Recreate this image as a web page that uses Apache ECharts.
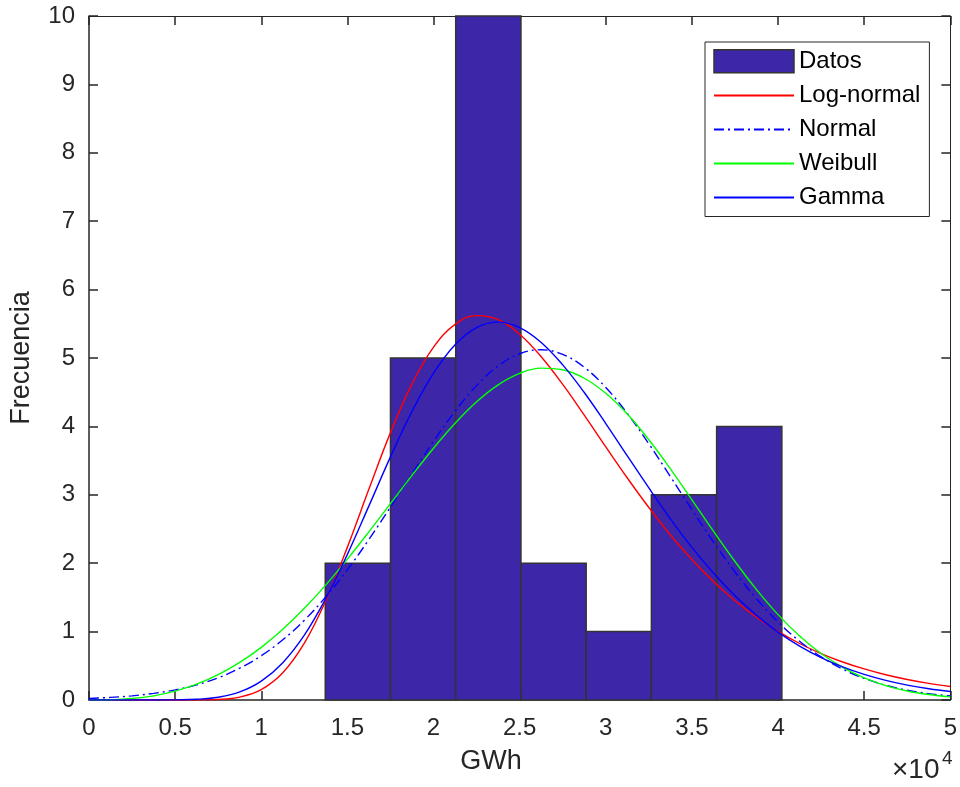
<!DOCTYPE html>
<html>
<head>
<meta charset="utf-8">
<script src="https://cdn.jsdelivr.net/npm/echarts@6/dist/echarts.min.js"></script>
<style>
  html, body { margin: 0; padding: 0; background: #fff; }
  #chart { width: 960px; height: 787px; }
</style>
</head>
<body>
<div id="chart"></div>
<script>
// Histogram of energy values (GWh) with fitted distribution curves
const binEdges = [13715, 17501, 21288, 25074, 28861, 32647, 36434, 40220];
const counts = [2, 5, 10, 2, 1, 3, 4];

// Sample points of the fitted curves (scaled to frequency)
const gwh = [0, 1250, 2500, 3750, 5000, 6250, 7500, 8750, 10000, 11250, 12500, 13750,
             15000, 16250, 17500, 18750, 20000, 21250, 22500, 23750, 25000, 26250,
             27500, 28750, 30000, 31250, 32500, 33750, 35000, 36250, 37500, 38750,
             40000, 41250, 42500, 43750, 45000, 46250, 47500, 48750, 50000];
const logNormal = [0, 0, 0, 0, 0, 0.001, 0.008, 0.043, 0.152, 0.398, 0.830, 1.457,
                   2.235, 3.084, 3.909, 4.621, 5.159, 5.492, 5.620, 5.561, 5.348, 5.019,
                   4.614, 4.165, 3.701, 3.246, 2.814, 2.413, 2.053, 1.731, 1.451, 1.209,
                   1.002, 0.826, 0.679, 0.556, 0.454, 0.369, 0.300, 0.243, 0.197];
const normal = [0.023, 0.038, 0.061, 0.097, 0.148, 0.222, 0.325, 0.465, 0.647, 0.880, 1.166, 1.509,
                1.905, 2.347, 2.820, 3.306, 3.782, 4.221, 4.596, 4.883, 5.062, 5.120,
                5.052, 4.864, 4.569, 4.188, 3.745, 3.267, 2.781, 2.310, 1.872, 1.480,
                1.141, 0.859, 0.631, 0.452, 0.316, 0.216, 0.143, 0.093, 0.059];
const weibull = [0, 0.004, 0.021, 0.061, 0.130, 0.231, 0.370, 0.549, 0.770, 1.034, 1.340, 1.683,
                 2.060, 2.459, 2.871, 3.284, 3.681, 4.045, 4.360, 4.608, 4.776, 4.852,
                 4.828, 4.704, 4.484, 4.180, 3.804, 3.380, 2.927, 2.468, 2.025, 1.614,
                 1.248, 0.935, 0.679, 0.476, 0.323, 0.211, 0.132, 0.080, 0.046];
const gamma = [0, 0, 0, 0, 0.002, 0.010, 0.041, 0.118, 0.276, 0.546, 0.948, 1.485,
               2.129, 2.838, 3.554, 4.219, 4.778, 5.195, 5.445, 5.525, 5.445, 5.228,
               4.900, 4.496, 4.042, 3.569, 3.100, 2.649, 2.232, 1.856, 1.524, 1.237,
               0.993, 0.789, 0.621, 0.484, 0.374, 0.287, 0.218, 0.165, 0.124];

const xTicks = ['0', '0.5', '1', '1.5', '2', '2.5', '3', '3.5', '4', '4.5', '5'];
const yTicks = ['0', '1', '2', '3', '4', '5', '6', '7', '8', '9', '10'];

const FONT = "'Liberation Sans', Arial, Helvetica, sans-serif";
const AXIS = '#262626';
const BAR_FILL = '#3E26A8';
const BAR_EDGE = '#333333';

const histData = counts.map((c, i) => [binEdges[i], binEdges[i + 1], c]);
const pair = arr => gwh.map((x, i) => [x, arr[i]]);

const chart = echarts.init(document.getElementById('chart'), null, { renderer: 'canvas' });

function lineSeries(name, values, color, type) {
  return {
    name: name,
    type: 'line',
    data: pair(values),
    smooth: 0.4,
    symbol: 'none',
    clip: true,
    color: color,
    lineStyle: { color: color, width: 1.4, type: type || 'solid' },
    z: 3
  };
}

// legend entry for a curve: line only, no marker
const lineEntry = name => ({ name: name, itemStyle: { opacity: 0 } });

const option = {
  backgroundColor: '#ffffff',
  animation: false,
  textStyle: { fontFamily: FONT },
  grid: { left: 88, right: 8, top: 16, bottom: 87, containLabel: false },
  xAxis: [
    {
      type: 'value', min: 0, max: 50000, interval: 5000, position: 'bottom',
      axisLine: { show: true, onZero: false, lineStyle: { color: AXIS, width: 1.5 } },
      axisTick: { show: true, inside: true, length: 9, lineStyle: { color: AXIS, width: 1.5 } },
      axisLabel: {
        fontSize: 24, color: AXIS, margin: 16, fontFamily: FONT,
        formatter: v => xTicks[Math.round(v / 5000)]
      },
      splitLine: { show: false }
    },
    {
      type: 'value', min: 0, max: 50000, interval: 5000, position: 'top',
      axisLine: { show: true, onZero: false, lineStyle: { color: AXIS, width: 1 } },
      axisTick: { show: true, inside: true, length: 9, lineStyle: { color: AXIS, width: 1.5 } },
      axisLabel: { show: false },
      splitLine: { show: false }
    }
  ],
  yAxis: [
    {
      type: 'value', min: 0, max: 10, interval: 1, position: 'left',
      axisLine: { show: true, onZero: false, lineStyle: { color: AXIS, width: 1.5 } },
      axisTick: { show: true, inside: true, length: 9, lineStyle: { color: AXIS, width: 1.5 } },
      axisLabel: {
        fontSize: 24, color: AXIS, margin: 14, fontFamily: FONT,
        formatter: v => yTicks[Math.round(v)]
      },
      splitLine: { show: false },
      name: 'Frecuencia', nameLocation: 'middle', nameGap: 54, nameRotate: 90,
      nameTextStyle: { fontSize: 27, color: AXIS, fontFamily: FONT }
    },
    {
      type: 'value', min: 0, max: 10, interval: 1, position: 'right',
      axisLine: { show: true, onZero: false, lineStyle: { color: AXIS, width: 1 } },
      axisTick: { show: true, inside: true, length: 9, lineStyle: { color: AXIS, width: 1.5 } },
      axisLabel: { show: false },
      splitLine: { show: false }
    }
  ],
  legend: {
    orient: 'vertical',
    left: 705, top: 42,
    itemWidth: 80, itemHeight: 23, itemGap: 10,
    padding: [7, 9, 7, 8],
    borderColor: AXIS, borderWidth: 1,
    backgroundColor: '#ffffff',
    selectedMode: false,
    textStyle: { fontSize: 24, color: '#000', fontFamily: FONT },
    data: [
      { name: 'Datos', icon: 'rect', itemStyle: { color: BAR_FILL, borderColor: BAR_EDGE, borderWidth: 1.5, opacity: 1 } },
      lineEntry('Log-normal'), lineEntry('Normal'), lineEntry('Weibull'), lineEntry('Gamma')
    ]
  },
  series: [
    {
      name: 'Datos',
      type: 'custom',
      data: histData,
      encode: { x: [0, 1], y: 2 },
      itemStyle: { color: BAR_FILL, borderColor: BAR_EDGE, borderWidth: 1.5 },
      z: 2,
      renderItem: function (params, api) {
        const p0 = api.coord([api.value(0), 0]);
        const p1 = api.coord([api.value(1), api.value(2)]);
        return {
          type: 'rect',
          shape: { x: p0[0], y: p1[1], width: p1[0] - p0[0], height: p0[1] - p1[1] },
          style: { fill: BAR_FILL, stroke: BAR_EDGE, lineWidth: 1.5 }
        };
      }
    },
    lineSeries('Log-normal', logNormal, '#FF0000'),
    lineSeries('Normal', normal, '#0000FF', [10, 4, 2, 4]),
    lineSeries('Weibull', weibull, '#00FF00'),
    lineSeries('Gamma', gamma, '#0000FF')
  ],
  graphic: [
    {
      type: 'text', x: 491, y: 762,
      style: { text: 'GWh', fontSize: 27, fill: AXIS, fontFamily: FONT, align: 'center', verticalAlign: 'middle' }
    },
    {
      type: 'text', left: 892, top: 756,
      style: { text: '×10', fontSize: 28, fill: AXIS, fontFamily: FONT }
    },
    {
      type: 'text', left: 942, top: 749,
      style: { text: '4', fontSize: 19, fill: AXIS, fontFamily: FONT }
    }
  ]
};

chart.setOption(option);
</script>
</body>
</html>
